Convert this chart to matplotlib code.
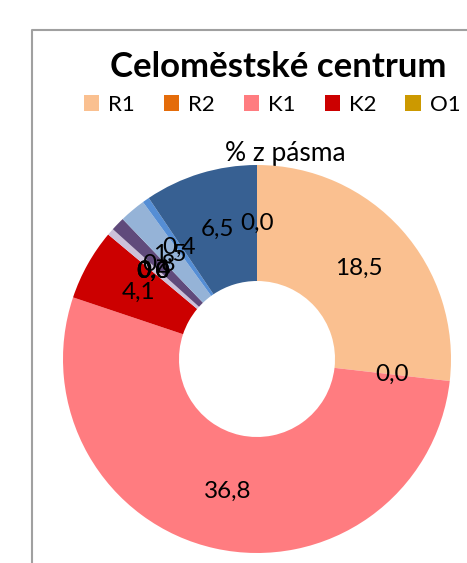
import matplotlib.pyplot as plt
from matplotlib.patches import Patch

categories = ['R1', 'R2', 'K1', 'K2', 'O1', 'O2', 'O3', 'V1', 'V2', 'D1', 'D2', 'Z1', 'Z2']
values = [18.5, 0.0, 36.8, 4.1, 0.0, 0.0, 0.0, 0.4, 0.8, 1.5, 0.4, 6.5, 0.0]
colors = ['#FAC090', '#E46C0A', '#FF7C80', '#CC0000', '#CC9900', '#9BBB59', '#4F6228',
          '#CCC1DA', '#604A7B', '#95B3D7', '#558ED5', '#376092', '#17375E']
series_name = '% z pásma'
title = 'Celoměstské centrum'

W, H = 467, 563
plt.rcParams['font.family'] = ['Lato', 'DejaVu Sans']
fig = plt.figure(figsize=(W / 100, H / 100), dpi=100)
ax = fig.add_axes([0, 0, 1, 1])
ax.axis('off')

# chart frame (cropped)
ax.plot([32, 32, W + 5], [-5, H - 30, H - 30], color='#A0A0A0', lw=1.5)

# series name sits behind the ring
ax.text(285, H - 153, series_name, ha='center', va='center', fontsize=19, zorder=0)

total = sum(values)
r_out, r_in = 194, 78
wedges, _, autotexts = ax.pie(
    values, colors=colors, startangle=90, counterclock=False,
    center=(257, H - 359), radius=r_out,
    wedgeprops=dict(width=r_out - r_in, linewidth=0),
    autopct=lambda p: f'{p * total / 100:.1f}'.replace('.', ','),
    pctdistance=(r_out + r_in) / 2 / r_out,
    textprops=dict(fontsize=17.5, color='black'))
for w in wedges:
    w.set_zorder(1)
for t in autotexts:
    t.set_zorder(3)
ax.set_xlim(0, W)
ax.set_ylim(0, H)
ax.set_aspect('equal')

ax.text(278, H - 67, title, ha='center', va='center', fontsize=25, fontweight='bold')

handles = [Patch(facecolor=c, edgecolor='none') for c in colors[:5]]
fig.legend(handles, categories[:5], loc='center', bbox_to_anchor=(272 / W, 1 - 105 / H),
           ncol=5, frameon=False, fontsize=16, handlelength=0.7, handleheight=0.7,
           handletextpad=0.4, columnspacing=1.3)

fig.savefig('out.png', dpi=100)
